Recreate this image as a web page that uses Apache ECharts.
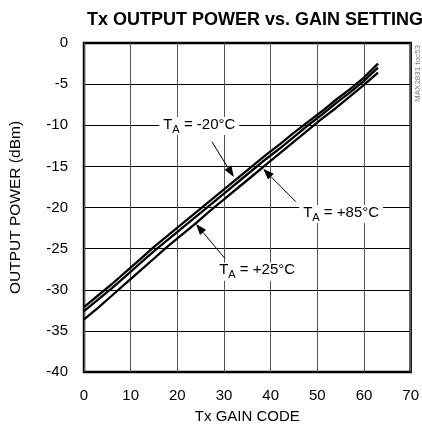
<!DOCTYPE html>
<html>
<head>
<meta charset="utf-8">
<script src="https://cdn.jsdelivr.net/npm/echarts@6/dist/echarts.min.js"></script>
<style>
  html, body { margin: 0; padding: 0; background: #fff; }
  #main { width: 422px; height: 435px; }
</style>
</head>
<body>
<div id="main"></div>
<script>
// gain codes and output power (dBm) per temperature
var gainCode = [0, 3, 6, 9, 12, 15, 18, 21, 24, 27, 30, 33, 36, 39, 42, 45, 48, 51, 54, 57, 60, 63];
var powerM20 = [-32.1, -30.7, -29.3, -27.8, -26.3, -24.8, -23.4, -22.0, -20.6, -19.2, -17.8, -16.4, -15.0, -13.6, -12.3, -10.9, -9.6, -8.3, -6.9, -5.6, -4.2, -2.5];
var powerP25 = [-32.6, -31.2, -29.8, -28.3, -26.8, -25.3, -23.9, -22.5, -21.1, -19.7, -18.3, -16.9, -15.5, -14.1, -12.8, -11.4, -10.0, -8.7, -7.3, -6.0, -4.6, -3.0];
var powerP85 = [-33.6, -32.2, -30.7, -29.2, -27.7, -26.2, -24.7, -23.3, -21.9, -20.4, -19.0, -17.6, -16.2, -14.8, -13.4, -12.0, -10.6, -9.2, -7.9, -6.5, -5.1, -3.6];
var xTicks = [0, 10, 20, 30, 40, 50, 60, 70];
var yTicks = [-40, -35, -30, -25, -20, -15, -10, -5, 0];

// annotations: label centre, arrow start, arrow tip (data coords)
var notes = [
  { temp: '-20°C', label: [24.7, -10.1], from: [27.4, -12.0], tip: [32.1, -16.3] },
  { temp: '+85°C', label: [55.1, -20.8], from: [45.4, -19.3], tip: [38.4, -15.3] },
  { temp: '+25°C', label: [37.1, -27.8], from: [30.2, -26.2], tip: [24.0, -22.0] }
];

var FONT = "'Liberation Sans', Arial, sans-serif";

function pairs(xs, ys) {
  return xs.map(function (x, i) { return [x, ys[i]]; });
}

function lineSeries(name, ys) {
  return {
    name: name,
    type: 'line',
    data: pairs(gainCode, ys),
    showSymbol: false,
    lineStyle: { color: '#000', width: 2.3 },
    z: 5
  };
}

var chart = echarts.init(document.getElementById('main'));

chart.setOption({
  animation: false,
  title: {
    text: 'Tx OUTPUT POWER vs. GAIN SETTING',
    left: 250,
    textAlign: 'center',
    top: 6,
    textStyle: { fontFamily: FONT, fontWeight: 'bold', fontSize: 18, color: '#000' }
  },
  grid: {
    left: 83, right: 9, top: 43, bottom: 63,
    show: true, borderColor: '#000', borderWidth: 2.5
  },
  xAxis: {
    type: 'value',
    min: xTicks[0], max: xTicks[xTicks.length - 1], interval: 10,
    name: 'Tx GAIN CODE',
    nameLocation: 'middle',
    nameGap: 37,
    nameTextStyle: { fontFamily: FONT, fontSize: 15, color: '#000' },
    axisLine: { show: false },
    axisTick: { show: false },
    axisLabel: { fontFamily: FONT, fontSize: 15, color: '#000', margin: 16, showMaxLabel: true },
    splitLine: { show: true, lineStyle: { color: '#555', width: 1 } }
  },
  yAxis: {
    type: 'value',
    min: yTicks[0], max: yTicks[yTicks.length - 1], interval: 5,
    name: 'OUTPUT POWER (dBm)',
    nameLocation: 'middle',
    nameGap: 60,
    nameTextStyle: { fontFamily: FONT, fontSize: 15.5, color: '#000' },
    axisLine: { show: false },
    axisTick: { show: false },
    axisLabel: { fontFamily: FONT, fontSize: 15, color: '#000', margin: 16 },
    splitLine: { show: true, lineStyle: { color: '#000', width: 1 } }
  },
  series: [
    lineSeries('TA = -20°C', powerM20),
    lineSeries('TA = +25°C', powerP25),
    lineSeries('TA = +85°C', powerP85)
  ]
});

// labels and arrows placed through the axes
function arrowGraphics() {
  var els = [];
  notes.forEach(function (n) {
    var c = chart.convertToPixel({ gridIndex: 0 }, n.label);
    var a = chart.convertToPixel({ gridIndex: 0 }, n.from);
    var b = chart.convertToPixel({ gridIndex: 0 }, n.tip);
    var dx = b[0] - a[0], dy = b[1] - a[1];
    var len = Math.sqrt(dx * dx + dy * dy);
    var ux = dx / len, uy = dy / len;
    var hl = 11, hw = 4;
    var base = [b[0] - ux * hl, b[1] - uy * hl];
    els.push({
      type: 'line', z: 20,
      shape: { x1: a[0], y1: a[1], x2: base[0], y2: base[1] },
      style: { stroke: '#000', lineWidth: 1 }
    });
    els.push({
      type: 'polygon', z: 20,
      shape: { points: [b, [base[0] - uy * hw, base[1] + ux * hw], [base[0] + uy * hw, base[1] - ux * hw]] },
      style: { fill: '#000' }
    });
    els.push({
      type: 'text', z: 21,
      x: c[0], y: c[1],
      style: {
        text: '{t|T}{s|A}{t| = ' + n.temp + '}',
        align: 'center', verticalAlign: 'middle',
        backgroundColor: '#fff',
        padding: [0, 4],
        rich: {
          t: { fontFamily: FONT, fontSize: 15, color: '#000', lineHeight: 18, verticalAlign: 'top' },
          s: { fontFamily: FONT, fontSize: 11, color: '#000', lineHeight: 18, verticalAlign: 'bottom', padding: [6, 0, 0, 0] }
        }
      }
    });
  });
  els.push({
    type: 'text', z: 21,
    x: 418, y: 45, rotation: Math.PI / 2,
    style: { text: 'MAX2831 toc53', fontFamily: FONT, fontSize: 8, fill: '#777', align: 'right', verticalAlign: 'middle' }
  });
  return els;
}

chart.setOption({ graphic: arrowGraphics() });
</script>
</body>
</html>
